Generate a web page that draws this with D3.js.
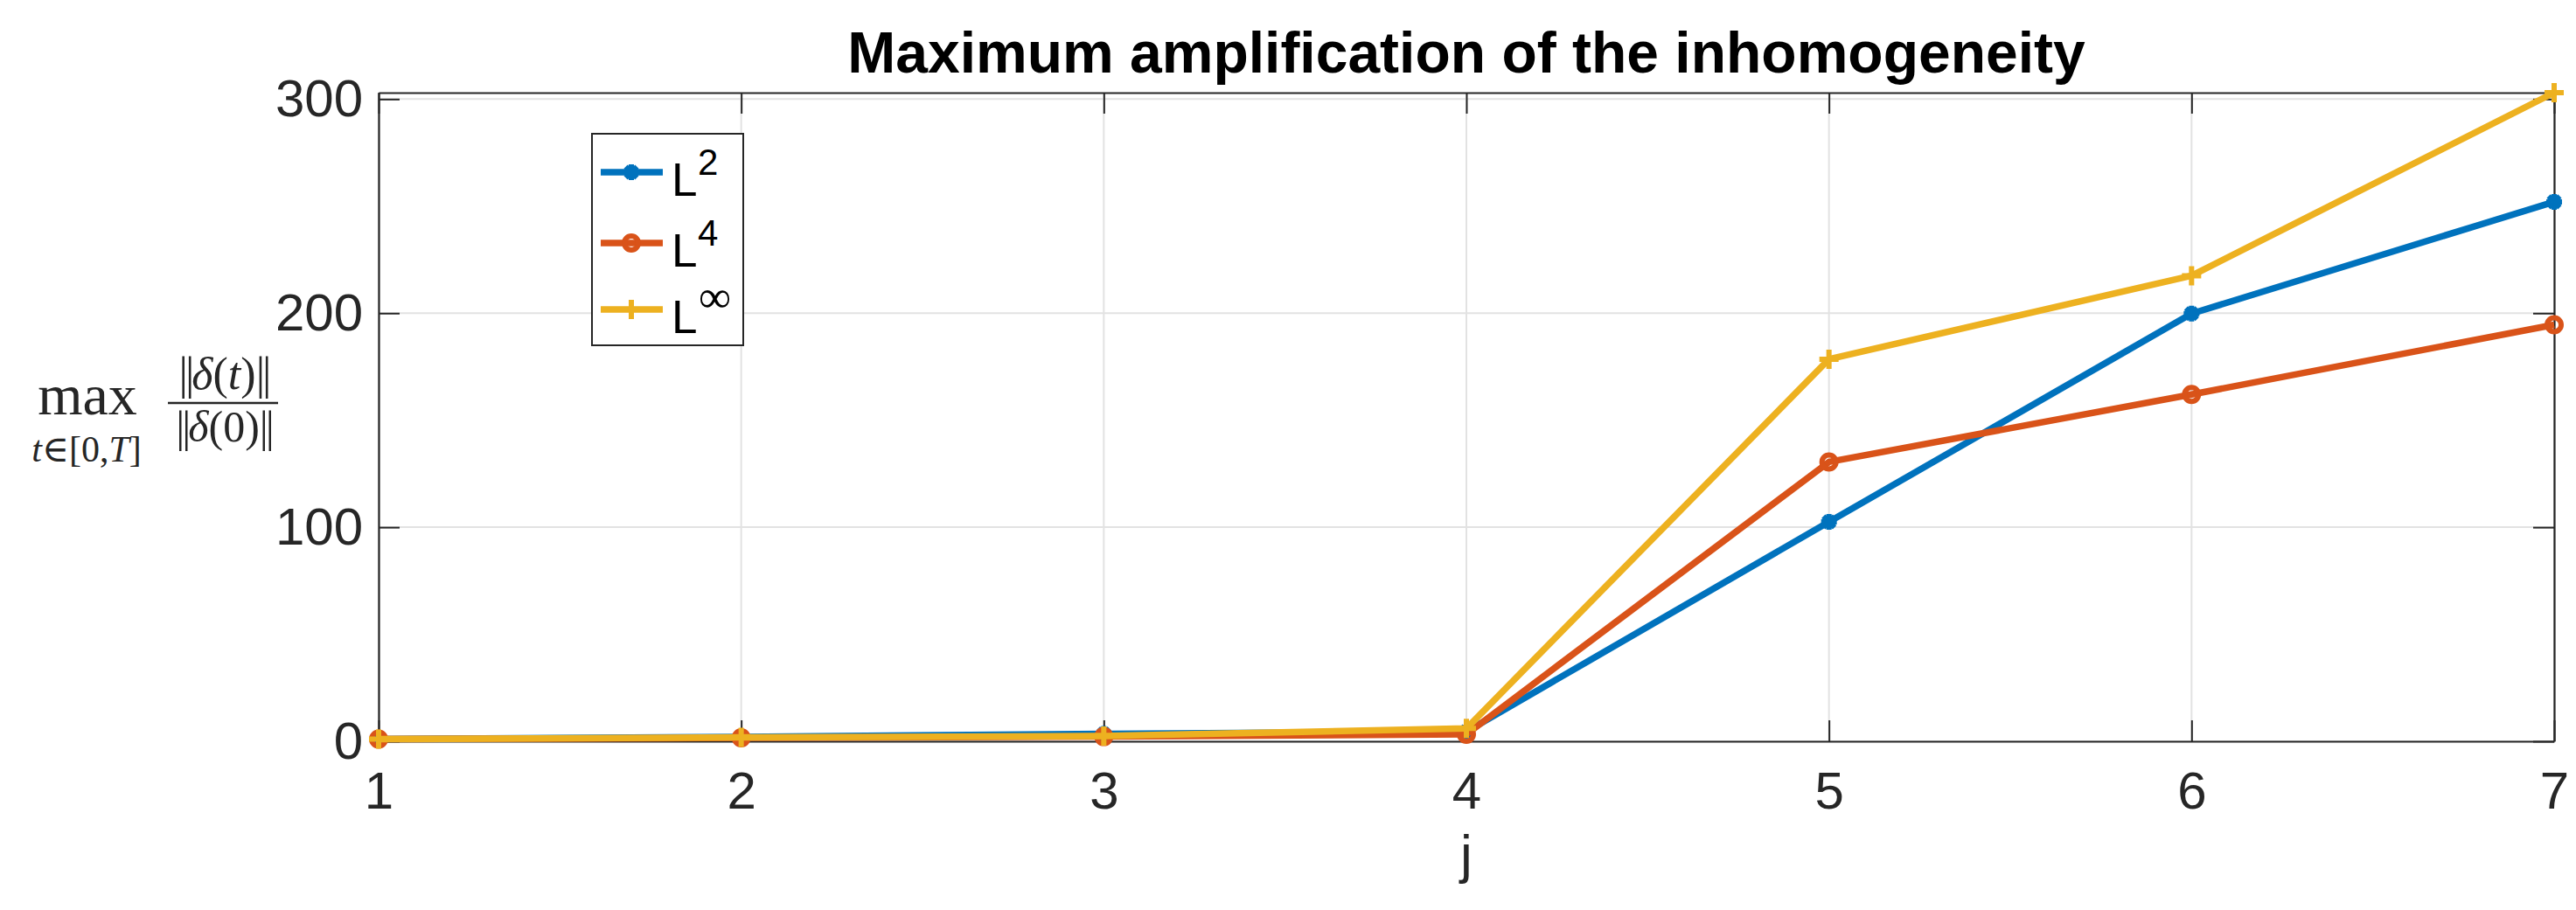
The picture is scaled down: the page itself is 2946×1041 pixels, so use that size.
<!DOCTYPE html>
<html><head><meta charset="utf-8">
<script src="https://cdn.jsdelivr.net/npm/d3@7"></script>
<style>body{margin:0;background:#fff}</style></head>
<body><svg id="c" width="2946" height="1041"></svg>
<script>
// ---- data ----
const jValues = [1, 2, 3, 4, 5, 6, 7];
const xTicks = [1, 2, 3, 4, 5, 6, 7];
const yTicks = [0, 100, 200, 300];
const l2Values = [1.0, 2.0, 3.5, 4.5, 102.5, 199.8, 252.0];
const l4Values = [1.0, 1.6, 2.2, 3.3, 130.5, 162.0, 194.6];
const linfValues = [1.0, 1.8, 2.5, 6.0, 178.5, 217.5, 303.0];
const seriesSup = ["2", "4", "\u221E"];
const titleText = "Maximum amplification of the inhomogeneity";
const xLabelText = "j";

const seriesValues = [l2Values, l4Values, linfValues];
const colors = ["#0072BD", "#D95319", "#EDB120"];
const markerTypes = ["asterisk", "circle", "plus"];

const svg = d3.select("#c");
const L = 433, R = 2921, T = 106, B = 848;
const x = d3.scaleLinear().domain([1, 7]).range([L, R]);
const y = d3.scaleLinear().domain([0, 303]).range([B, T]);
const axisColor = "#262626";
const sans = "'Liberation Sans', Arial, Helvetica, sans-serif";
const serif = "'Liberation Serif', 'DejaVu Serif', serif";

// grid
const g = svg.append("g");
g.selectAll("line.gx").data(xTicks).join("line")
  .attr("x1", d => x(d)).attr("x2", d => x(d)).attr("y1", T).attr("y2", B)
  .attr("stroke", "#e2e2e2").attr("stroke-width", 2);
g.selectAll("line.gy").data(yTicks).join("line")
  .attr("y1", d => y(d)).attr("y2", d => y(d)).attr("x1", L).attr("x2", R)
  .attr("stroke", "#e2e2e2").attr("stroke-width", 2);

function styleAxis(sel) {
  sel.select(".domain").attr("stroke", axisColor).attr("stroke-width", 2.2);
  sel.selectAll(".tick line").attr("stroke", axisColor).attr("stroke-width", 2);
  sel.selectAll(".tick text").attr("fill", axisColor).style("font-family", sans).style("font-size", "60px");
}
const ax = svg.append("g").attr("transform", `translate(0,${B})`)
  .call(d3.axisBottom(x).tickValues(xTicks).tickSizeInner(-24).tickSizeOuter(0).tickPadding(34).tickFormat(d3.format("d")));
styleAxis(ax);
const axT = svg.append("g").attr("transform", `translate(0,${T})`)
  .call(d3.axisTop(x).tickValues(xTicks).tickSizeInner(-24).tickSizeOuter(0).tickFormat(""));
styleAxis(axT);
const ay = svg.append("g").attr("transform", `translate(${L},0)`)
  .call(d3.axisLeft(y).tickValues(yTicks).tickSizeInner(-24).tickSizeOuter(0).tickPadding(18).tickFormat(d3.format("d")));
styleAxis(ay);
const ayR = svg.append("g").attr("transform", `translate(${R},0)`)
  .call(d3.axisRight(y).tickValues(yTicks).tickSizeInner(-24).tickSizeOuter(0).tickFormat(""));
styleAxis(ayR);
ax.selectAll(".tick text").attr("dy", "0.71em");

// markers
function markerPath(type) {
  if (type === "asterisk") { const s = 9, d = 6.4;
    return `M${-s},0H${s}M0,${-s}V${s}M${-d},${-d}L${d},${d}M${-d},${d}L${d},${-d}`; }
  if (type === "plus") { const s = 11; return `M${-s},0H${s}M0,${-s}V${s}`; }
  return null;
}
function drawMarker(sel, type, color) {
  if (type === "circle") {
    sel.append("circle").attr("r", 8).attr("fill", "none").attr("stroke", color).attr("stroke-width", 6);
  } else {
    sel.append("path").attr("d", markerPath(type)).attr("fill", "none").attr("stroke", color).attr("stroke-width", 6);
  }
}

const line = d3.line().x((d, i) => x(jValues[i])).y(d => y(d));
seriesValues.forEach((vals, si) => {
  const sg = svg.append("g");
  sg.append("path").attr("d", line(vals)).attr("fill", "none")
    .attr("stroke", colors[si]).attr("stroke-width", 7.5).attr("stroke-linejoin", "round");
  vals.forEach((v, i) => {
    const mg = sg.append("g").attr("transform", `translate(${x(jValues[i])},${y(v)})`);
    drawMarker(mg, markerTypes[si], colors[si]);
  });
});

// title
svg.append("text").attr("x", (L + R) / 2).attr("y", 83).attr("text-anchor", "middle")
  .style("font-family", sans).style("font-weight", "bold").style("font-size", "66px")
  .attr("fill", "#000").text(titleText);

// x label
svg.append("text").attr("x", (L + R) / 2).attr("y", 998).attr("text-anchor", "middle")
  .style("font-family", sans).style("font-size", "62px").attr("fill", axisColor).text(xLabelText);

// y label (LaTeX-like)
const yl = svg.append("g").attr("fill", axisColor).style("font-family", serif);
yl.append("text").attr("x", 100).attr("y", 474).attr("text-anchor", "middle").style("font-size", "66px").text("max");
const sub = yl.append("text").attr("x", 99).attr("y", 528).attr("text-anchor", "middle").style("font-size", "42px");
sub.append("tspan").style("font-style", "italic").text("t");
sub.append("tspan").text("\u2208[0,");
sub.append("tspan").style("font-style", "italic").text("T");
sub.append("tspan").text("]");

function normText(sel, inner, italicPart) {
  sel.append("tspan").style("letter-spacing", "-3px").text("||");
  sel.append("tspan").style("font-style", "italic").text("\u03B4");
  sel.append("tspan").text("(");
  if (italicPart) sel.append("tspan").style("font-style", "italic").text(inner);
  else sel.append("tspan").text(inner);
  sel.append("tspan").text(")");
  sel.append("tspan").style("letter-spacing", "-3px").text("||");
}
const num = yl.append("text").attr("x", 256).attr("y", 445).attr("text-anchor", "middle").style("font-size", "52px");
normText(num, "t", true);
yl.append("line").attr("x1", 192).attr("x2", 318).attr("y1", 461).attr("y2", 461).attr("stroke", axisColor).attr("stroke-width", 2.5);
const den = yl.append("text").attr("x", 256).attr("y", 505).attr("text-anchor", "middle").style("font-size", "50px");
normText(den, "0", false);

// legend
const lg = svg.append("g");
lg.append("rect").attr("x", 677).attr("y", 153).attr("width", 173).attr("height", 242)
  .attr("fill", "#fff").attr("stroke", axisColor).attr("stroke-width", 2);
const legY = [197, 278, 354];
seriesSup.forEach((s, i) => {
  const eg = lg.append("g").attr("transform", `translate(0,${legY[i]})`);
  eg.append("line").attr("x1", 687).attr("x2", 758).attr("stroke", colors[i]).attr("stroke-width", 7.5);
  const mg = eg.append("g").attr("transform", "translate(722,0)");
  drawMarker(mg, markerTypes[i], colors[i]);
  eg.append("text").attr("x", 768).attr("y", 27).style("font-family", sans).style("font-size", "53px").attr("fill", "#000").text("L");
  if (s === "\u221E") {
    eg.append("text").attr("x", 799).attr("y", 3).style("font-family", serif).style("font-size", "52px").attr("fill", "#000").text(s);
  } else {
    eg.append("text").attr("x", 798).attr("y", 3).style("font-family", sans).style("font-size", "42px").attr("fill", "#000").text(s);
  }
});
</script>
</body></html>
